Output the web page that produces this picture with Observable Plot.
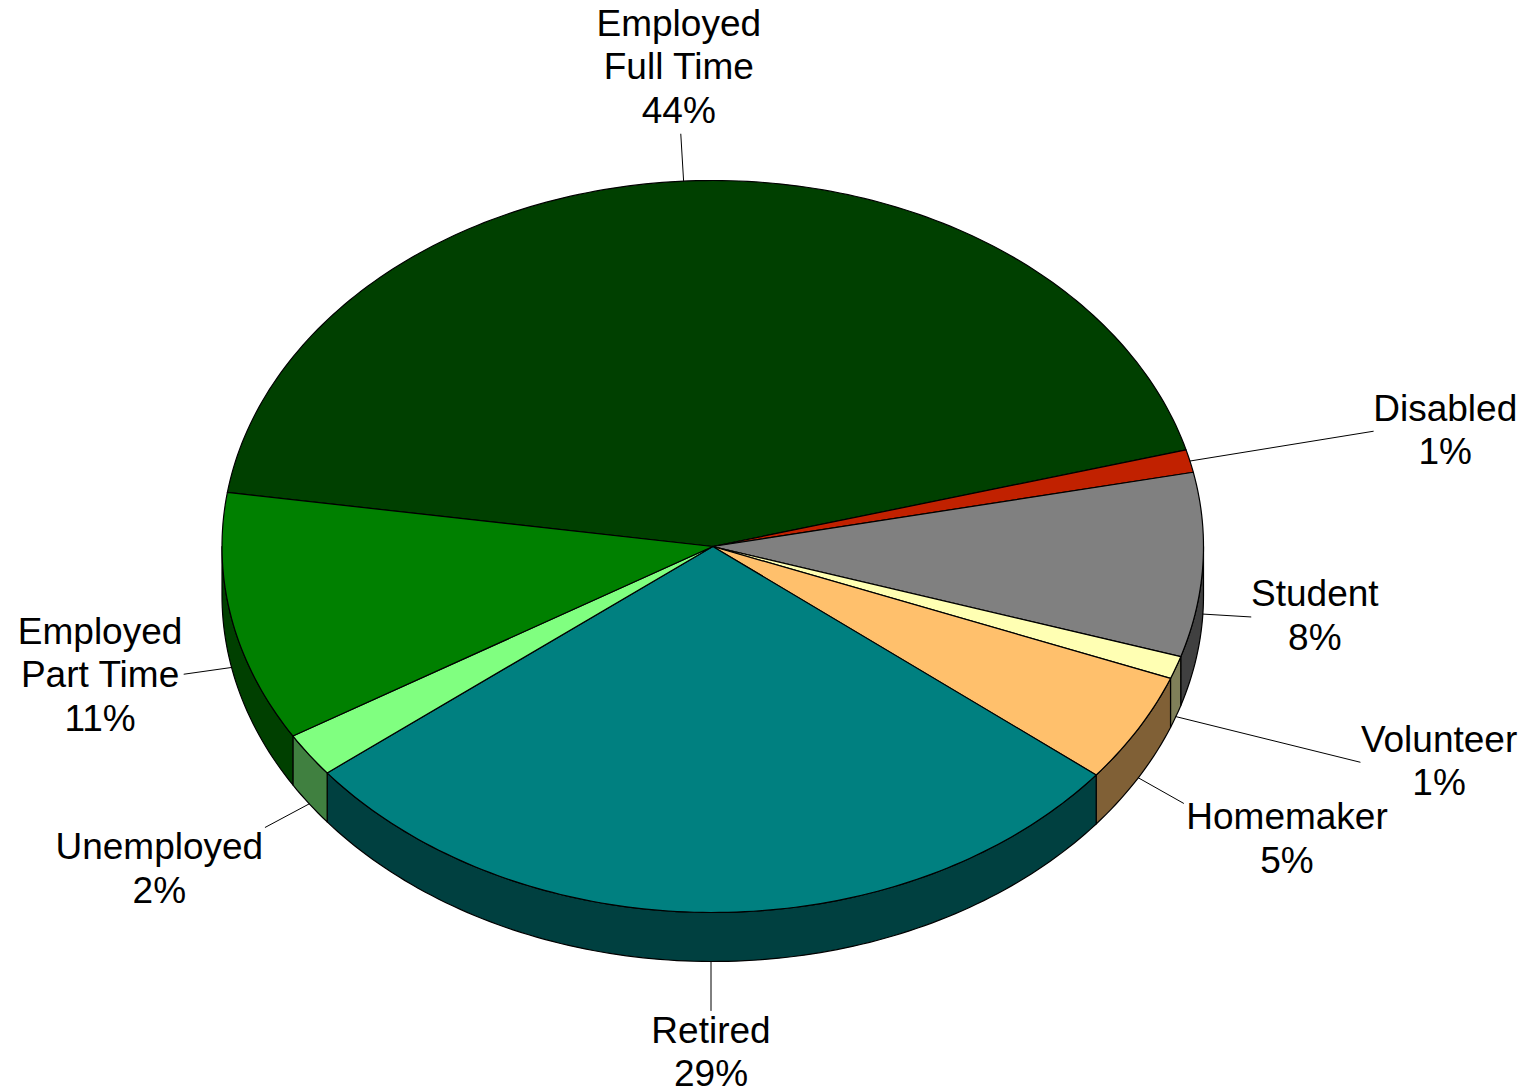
<!DOCTYPE html>
<html><head><meta charset="utf-8">
<script src="https://cdn.jsdelivr.net/npm/d3@7"></script>
<script src="https://cdn.jsdelivr.net/npm/@observablehq/plot@0.6"></script>
<style>html,body{margin:0;padding:0;background:#fff}svg{display:block}</style>
</head><body><div id="chart"></div>
<script>
const categories = ["Employed\nFull Time","Disabled","Student","Volunteer","Homemaker","Retired","Unemployed","Employed\nPart Time"];
const shares = [43.3,1,8.1,1,4.85,28.6,1.95,11];
const percentLabels = ["44%","1%","8%","1%","5%","29%","2%","11%"];
const topColors = ["#004000","#c12100","#808080","#ffffb3","#ffc06c","#008080","#80ff80","#008000"];
const sideColors = ["#002000","#601000","#404040","#808059","#806036","#004040","#408040","#004000"];
// label layout: leader length, leader direction, and text offset from the leader's end
const leaderLen = [47,186,48,190,52,49,50,48];
const leaderDirX = [-0.06,0.986,1,0.97,0.87,0,-0.88,-0.99];
const leaderDirY = [1,0.16,-0.06,-0.24,-0.49,-1,-0.47,-0.14];
const labelDX = [-2,72,64,79,103.5,0,-106,-84];
const labelDY = [-69,-2.5,-3,-2.5,34,40,39.5,-1];

const startAngle = 74.8 - 156.3; // degrees clockwise from top
const depth = 49/366;
const total = d3.sum(shares);
let acc = startAngle;
const slices = shares.map((v,i)=>{const a0=acc; acc+=v/total*360; return {i,a0,a1:acc,mid:(a0+acc)/2};});
const rad = d=>d*Math.PI/180;
const px = a=>Math.sin(rad(a)), py = a=>Math.cos(rad(a));
const arc=(a0,a1)=>{const n=Math.max(2,Math.ceil((a1-a0)/1));return d3.range(n+1).map(k=>a0+(a1-a0)*k/n);};

const tops = [], sides = [];
slices.forEach(s=>{
  const pts=[{x:0,y:0},...arc(s.a0,s.a1).map(a=>({x:px(a),y:py(a)})),{x:0,y:0}];
  pts.forEach(p=>tops.push({...p,slice:s.i}));
  const lo=Math.max(s.a0,90), hi=Math.min(s.a1,270);
  if(hi>lo){
    const as=arc(lo,hi);
    const poly=[...as.map(a=>({x:px(a),y:py(a)})),...as.slice().reverse().map(a=>({x:px(a),y:py(a)-depth}))];
    poly.push(poly[0]);
    poly.forEach(p=>sides.push({...p,slice:s.i}));
  }
});
const leaders=[],labels=[];
const sx=491,sy=366;
slices.forEach(s=>{
  const a=((s.mid%360)+360)%360, vis=a>90&&a<270;
  const x0=px(a), y0=py(a)-(vis?depth:0);
  const L=leaderLen[s.i];
  const x1=x0+leaderDirX[s.i]*L/sx, y1=y0+leaderDirY[s.i]*L/sy;
  leaders.push({x:x0,y:y0,slice:s.i},{x:x1,y:y1,slice:s.i});
  labels.push({x:x1,y:y1,dx:labelDX[s.i],dy:labelDY[s.i],text:categories[s.i]+"\n"+percentLabels[s.i]});
});
const opts=(colors)=>({x:"x",y:"y",z:"slice",fill:d=>colors[d.slice],stroke:"#000",strokeWidth:1.2,curve:"linear",strokeLinejoin:"round"});
const chart=Plot.plot({
  width:1527,height:1091,margin:0,
  style:{background:"#fff",fontFamily:"'Liberation Sans',Arial,sans-serif"},
  x:{domain:[-1,1],range:[221.5,1203],axis:null},
  y:{domain:[-1,1],range:[912,180],axis:null},
  marks:[
    Plot.line(sides,opts(sideColors)),
    Plot.line(tops,opts(topColors)),
    Plot.line(leaders,{x:"x",y:"y",z:"slice",stroke:"#000",strokeWidth:1}),
    ...labels.map(l=>Plot.text([l],{x:"x",y:"y",dx:l.dx,dy:l.dy,text:"text",fontSize:37,lineHeight:1.176,fill:"#000",textAnchor:"middle",lineAnchor:"middle"}))
  ]
});
document.getElementById("chart").append(chart);
</script></body></html>
